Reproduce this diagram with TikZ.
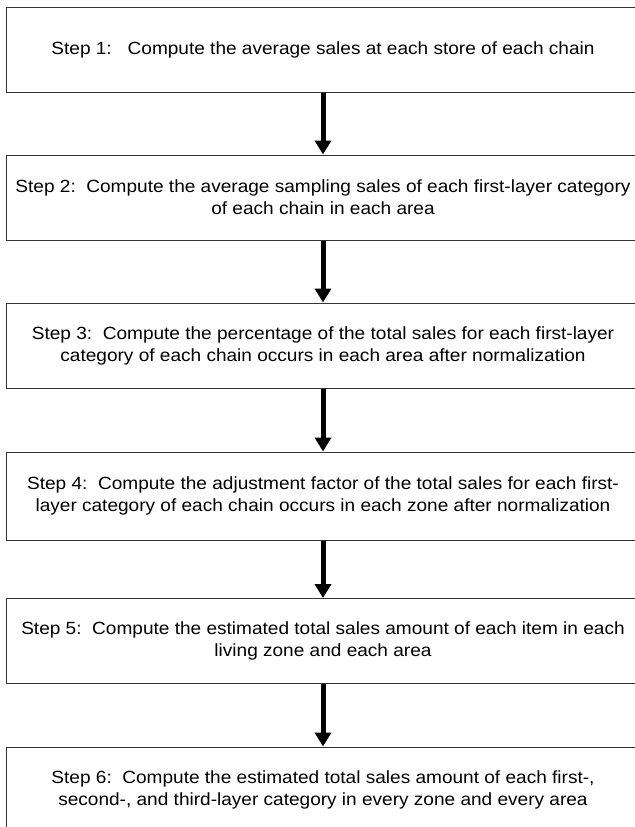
\documentclass[tikz,border=0pt]{standalone}
\usepackage{fontspec}
\setmainfont{Liberation Sans}[FakeStretch=1.08]
\usetikzlibrary{arrows.meta}
\begin{document}
\begin{tikzpicture}[x=1bp,y=-1bp,
  stepbox/.style={draw=black!80, line width=1bp, minimum width=632bp, minimum height=85bp,
    inner sep=0pt, align=center, font=\fontsize{17.7}{22}\selectfont},
  flow/.style={line width=5bp, -{Triangle[width=16bp,length=14bp]}}]
\useasboundingbox (0,0) rectangle (635,827);
\clip (0,0) rectangle (635,827);
\node[stepbox] (b1) at (323,50) {Step 1:\ \ \ Compute the average sales at each store of each chain};
\node[stepbox] (b2) at (323,197.5) {Step 2:\ \ Compute the average sampling sales of each first-layer category\\of each chain in each area};
\node[stepbox] (b3) at (323,345.5) {Step 3:\ \ Compute the percentage of the total sales for each first-layer\\category of each chain occurs in each area after normalization};
\node[stepbox, minimum height=88bp] (b4) at (323,496) {Step 4:\ \ Compute the adjustment factor of the total sales for each first-\\layer category of each chain occurs in each zone after normalization};
\node[stepbox] (b5) at (323,641) {Step 5:\ \ Compute the estimated total sales amount of each item in each\\living zone and each area};
\node[stepbox] (b6) at (323,789.5) {Step 6:\ \ Compute the estimated total sales amount of each first-,\\second-, and third-layer category in every zone and every area};
\draw[flow] (b1.south) -- (b2.north);
\draw[flow] (b2.south) -- (b3.north);
\draw[flow] (b3.south) -- (b4.north);
\draw[flow] (b4.south) -- (b5.north);
\draw[flow] (b5.south) -- (b6.north);
\end{tikzpicture}
\end{document}
